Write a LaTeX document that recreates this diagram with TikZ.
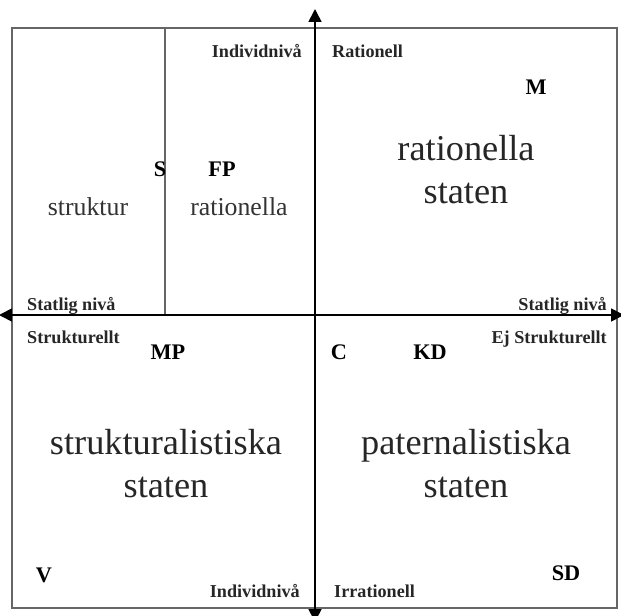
\documentclass[tikz,border=0pt]{standalone}
\usepackage{fontspec}
\setmainfont{Liberation Serif}
\usetikzlibrary{arrows.meta}

\tikzset{
    lbl/.style={font=\bfseries\fontsize{15.5}{18}\selectfont, text=black!85, inner sep=0pt, anchor=base west},
    party/.style={font=\bfseries\fontsize{19}{22}\selectfont, inner sep=0pt, anchor=base},
    mid/.style={font=\fontsize{22}{26}\selectfont, text=black!80, inner sep=0pt, anchor=base},
    big/.style={font=\fontsize{31}{36}\selectfont, text=black!85, align=center, inner sep=0pt, anchor=base},
    frame/.style={draw=black!60, line width=0.9pt},
    axis/.style={-{Triangle[length=11pt, width=11pt]}, line width=1.4pt}
}

\begin{document}
\begin{tikzpicture}[x=0.03cm, y=-0.03cm]
        \useasboundingbox (0, 0) rectangle (621, 615);
        % frame and divider
        \draw[frame] (12, 28) rectangle (617, 608);
        \draw[frame] (165, 28) -- (165, 315);
        % axes
        \coordinate (origin) at (315, 315);
        \coordinate (top) at (315, 9);
        \coordinate (bottom) at (315, 622);
        \coordinate (left) at (-1, 315);
        \coordinate (right) at (624, 315);
        \draw[axis] (origin) -- (top);
        \draw[axis] (origin) -- (bottom);
        \draw[axis] (origin) -- (left);
        \draw[axis] (origin) -- (right);
        % axis labels
        \node[lbl, anchor=base east] (indtop) at (302, 57) {Individnivå};
        \node[lbl] (rat) at (332, 57) {Rationell};
        \node[lbl] (statl) at (27, 310) {Statlig nivå};
        \node[lbl, anchor=base east] (statr) at (607, 310) {Statlig nivå};
        \node[lbl] (strukt) at (27, 343) {Strukturellt};
        \node[lbl, anchor=base east] (ejstrukt) at (607, 343) {Ej Strukturellt};
        \node[lbl, anchor=base east] (indbot) at (300, 597) {Individnivå};
        \node[lbl] (irrat) at (334, 597) {Irrationell};
        % parties
        \node[party] (m) at (536, 94) {M};
        \node[party] (s) at (160, 176) {S};
        \node[party] (fp) at (222, 176) {FP};
        \node[party] (mp) at (168, 359) {MP};
        \node[party] (c) at (339, 359) {C};
        \node[party] (kd) at (430, 359) {KD};
        \node[party] (v) at (44, 582) {V};
        \node[party] (sd) at (566, 580) {SD};
        % quadrant names
        \node[mid] (struktur) at (88, 215) {struktur};
        \node[mid] (ratsmall) at (239, 215) {rationella};
        \node[big] (ratstat) at (466, 203) {rationella\\staten};
        \node[big] (strukstat) at (166, 497) {strukturalistiska\\staten};
        \node[big] (patstat) at (466, 497) {paternalistiska\\staten};
    \end{tikzpicture}
\end{document}
